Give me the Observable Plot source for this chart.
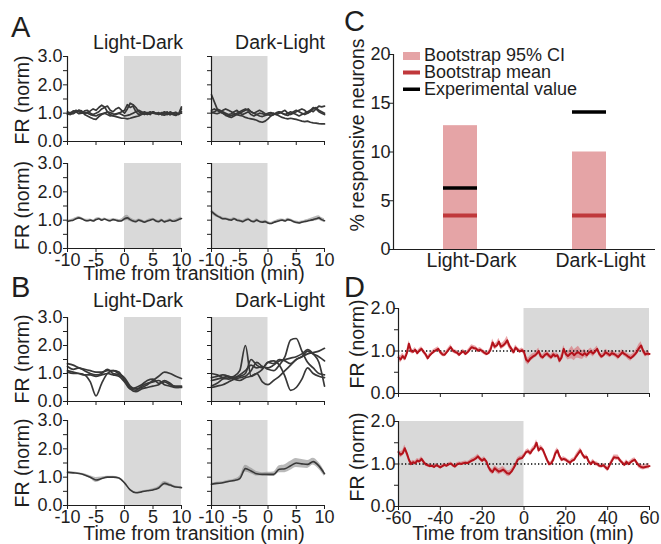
<!DOCTYPE html>
<html>
<head>
<meta charset="utf-8">
<script src="https://cdn.jsdelivr.net/npm/d3@7"></script>
<script src="https://cdn.jsdelivr.net/npm/@observablehq/plot@0.6"></script>
<style>
html,body{margin:0;padding:0;background:#fff;}
#fig{position:relative;width:661px;height:544px;overflow:hidden;background:#fff;}
#fig svg{position:absolute;left:0;top:0;}
</style>
</head>
<body>
<div id="fig"></div>
<script>
// ---------------- DATA ----------------
const stepA = 0.5, stepB = 1, stepD = 1;
const darkAB_LD = [0, 10];
const darkAB_DL = [-10, 0];
const darkD_LD = [0, 60];
const darkD_DL = [-60, 0];

// Panel A, individual neurons (Light-Dark)
const aLD1 = [0.95,1.00,1.05,1.10,1.05,1.00,1.08,1.10,1.00,0.95,1.00,1.05,1.15,1.20,1.25,1.10,1.05,1.15,1.20,1.10,1.00,1.15,1.35,1.30,1.20,1.05,1.00,0.95,1.00,1.05,1.00,0.98,1.02,0.95,1.00,1.05,0.95,0.98,1.02,0.95,1.15];
const aLD2 = [1.00,1.02,0.98,1.05,1.10,1.08,0.95,0.90,0.85,0.80,0.78,0.88,0.95,1.00,1.05,1.02,0.98,0.95,1.00,1.05,1.10,1.30,1.20,1.25,1.05,0.95,1.00,1.05,1.00,0.95,1.05,1.00,0.95,1.02,0.98,0.95,1.05,1.00,0.95,0.98,1.00];
const aLD3 = [1.05,1.00,1.08,1.05,1.10,1.05,1.00,1.02,1.08,1.15,1.10,1.20,1.28,1.22,1.05,0.95,0.90,0.88,0.85,0.82,0.82,0.80,0.82,0.85,0.88,0.90,0.95,1.00,1.02,0.98,1.05,1.00,0.97,1.00,1.05,0.98,0.95,1.00,1.03,0.97,1.05];
const aLD4 = [0.98,0.95,1.00,1.05,0.98,1.00,1.02,1.00,0.95,0.92,0.90,0.95,0.98,1.00,0.95,0.90,0.92,0.98,1.00,0.95,0.90,0.92,0.95,1.00,1.05,1.10,1.05,1.00,0.95,1.00,1.02,0.98,1.00,0.95,0.93,0.98,1.00,0.95,0.92,0.98,1.22];
// Panel A, individual neurons (Dark-Light)
const aDL1 = [1.65,1.40,1.15,1.10,1.05,1.00,0.95,0.98,1.05,1.10,1.00,0.95,1.00,1.05,0.95,0.90,0.95,1.00,0.98,0.95,1.00,1.02,0.98,0.95,1.00,1.05,1.10,1.00,0.95,1.00,1.05,1.10,1.15,1.10,1.00,1.05,1.15,1.20,1.10,1.05,1.00];
const aDL2 = [1.10,1.15,1.10,1.05,1.00,0.95,0.90,0.92,0.95,1.00,1.05,1.10,1.15,1.10,1.05,1.00,0.95,0.90,0.88,0.92,0.95,0.98,1.00,0.95,0.90,0.85,0.82,0.80,0.82,0.80,0.78,0.75,0.72,0.70,0.72,0.68,0.66,0.65,0.63,0.62,0.62];
const aDL3 = [1.05,1.00,0.98,1.02,1.10,1.15,1.10,1.05,1.00,0.95,0.92,0.90,0.85,0.82,0.80,0.78,0.75,0.70,0.68,0.72,0.80,0.90,0.95,1.00,1.05,1.00,0.95,1.00,1.05,1.00,0.95,0.90,0.95,1.00,1.05,1.10,1.05,1.15,1.25,1.22,1.25];
const aDL4 = [1.00,1.05,1.10,1.05,1.00,0.92,0.88,0.85,0.90,0.95,1.00,1.05,1.10,1.15,1.05,1.00,1.05,1.10,1.05,0.98,0.95,0.92,0.95,1.02,1.05,1.00,0.95,0.92,0.98,1.05,1.10,1.05,1.00,0.95,1.00,1.10,1.20,1.15,1.05,1.00,0.95];
// Panel A, population mean and SEM
const aLDmean = [0.95,0.98,1.00,1.05,1.08,1.05,1.00,0.98,1.00,0.97,1.02,1.05,1.00,1.04,1.00,0.98,1.02,1.00,0.97,0.98,1.05,1.08,1.02,0.97,0.95,1.00,0.97,0.93,0.97,1.00,1.03,0.97,0.95,1.00,0.94,0.97,1.00,0.96,0.98,1.02,1.06];
const aLDsem  = [0.04,0.04,0.05,0.04,0.05,0.04,0.04,0.05,0.04,0.04,0.05,0.04,0.05,0.04,0.04,0.05,0.04,0.04,0.05,0.06,0.08,0.09,0.07,0.06,0.05,0.04,0.05,0.04,0.04,0.05,0.04,0.05,0.04,0.04,0.05,0.04,0.05,0.04,0.05,0.05,0.05];
const aDLmean = [1.30,1.22,1.15,1.10,1.05,1.05,1.02,1.00,1.05,1.00,0.98,0.95,1.00,1.03,0.97,0.95,1.00,0.95,0.93,0.95,0.90,0.88,0.92,0.95,0.98,1.00,0.97,1.02,1.00,0.95,0.92,0.90,0.93,0.95,0.97,1.00,1.02,1.05,1.08,1.02,0.98];
const aDLsem  = [0.08,0.07,0.06,0.05,0.05,0.04,0.04,0.05,0.04,0.04,0.05,0.04,0.04,0.05,0.04,0.04,0.05,0.04,0.04,0.05,0.05,0.04,0.04,0.05,0.05,0.04,0.05,0.05,0.04,0.05,0.05,0.05,0.04,0.05,0.05,0.06,0.07,0.08,0.08,0.07,0.07];

// Panel B, individual neurons (1-min resolution)
const bLD1 = [1.35,1.30,1.20,1.15,1.10,1.05,1.05,1.10,1.10,1.00,0.85,0.55,0.45,0.50,0.60,0.75,0.90,1.05,1.00,0.90,0.82];
const bLD2 = [1.25,1.15,1.20,1.10,1.00,0.95,1.00,1.15,1.00,0.95,0.80,0.50,0.40,0.55,0.65,0.70,0.75,0.60,0.55,0.50,0.50];
const bLD3 = [1.10,1.05,1.00,0.95,0.95,0.90,0.95,1.00,0.95,0.90,0.70,0.45,0.50,0.60,0.75,0.80,0.65,0.70,0.60,0.55,0.55];
const bLD4 = [1.05,1.00,1.00,0.95,0.70,0.20,0.65,1.00,1.10,1.05,0.75,0.45,0.35,0.45,0.50,0.55,0.60,0.75,0.65,0.50,0.52];
const bDL1 = [0.55,0.65,0.80,0.85,0.90,1.10,2.00,0.90,1.00,1.15,1.40,1.35,1.50,1.45,1.35,1.50,1.60,1.80,1.70,1.60,1.45];
const bDL2 = [0.75,0.80,0.85,0.90,0.85,0.95,1.10,1.30,1.20,1.25,1.15,1.10,1.30,1.60,2.20,2.25,1.80,1.40,1.20,1.00,0.95];
const bDL3 = [1.00,0.95,0.85,0.80,0.85,0.90,1.00,1.50,1.30,1.20,1.40,1.45,1.30,0.90,0.40,0.50,0.80,1.20,1.00,0.90,0.85];
const bDL4 = [0.85,0.90,0.95,0.90,0.80,0.75,0.85,0.90,1.00,0.70,0.60,0.75,0.90,1.10,1.30,1.50,1.60,1.70,1.75,1.80,1.90];
const bDL5 = [0.50,0.55,0.60,0.70,0.80,0.85,0.90,1.10,1.40,1.25,1.20,1.30,1.45,1.50,1.55,1.60,1.70,1.85,1.70,1.40,0.55];
// Panel B, population mean and SEM
const bLDmean = [1.17,1.15,1.13,1.08,1.00,0.90,0.95,1.00,1.00,0.97,0.80,0.55,0.45,0.48,0.52,0.55,0.62,0.78,0.72,0.65,0.63];
const bLDsem  = [0.03,0.03,0.03,0.04,0.05,0.09,0.06,0.03,0.03,0.03,0.03,0.03,0.03,0.03,0.03,0.04,0.05,0.07,0.06,0.04,0.04];
const bDLmean = [0.75,0.78,0.80,0.85,0.88,0.95,1.30,1.22,1.12,1.10,1.10,1.10,1.28,1.30,1.40,1.50,1.47,1.45,1.55,1.40,1.12];
const bDLsem  = [0.04,0.04,0.04,0.04,0.05,0.08,0.12,0.10,0.08,0.06,0.07,0.08,0.12,0.14,0.16,0.16,0.15,0.14,0.12,0.12,0.10];

// Panel C
const cCategories = ["Light-Dark", "Dark-Light"];
const cCiLow  = [0, 0];
const cCiHigh = [12.7, 10.0];
const cBootMean = [3.5, 3.5];
const cExperimental = [6.3, 14.1];
const cLegend = ["Bootstrap 95% CI", "Bootstrap mean", "Experimental value"];

// Panel D (1-min resolution, -60..60)
const dLD = [0.85,0.80,0.88,0.82,0.95,1.17,1.00,0.98,1.03,0.95,
             1.01,1.05,0.98,0.92,0.83,0.90,0.95,0.99,1.02,1.05,
             0.97,0.92,0.91,0.97,1.03,1.09,1.01,0.98,0.96,0.91,
             0.96,0.99,0.93,0.97,1.03,1.09,1.07,1.06,1.01,1.03,
             1.00,0.96,0.93,0.95,1.03,1.20,1.10,1.13,1.22,1.10,
             1.13,1.18,1.25,1.12,1.05,0.97,1.08,1.03,0.99,1.02,
             0.98,0.80,0.75,0.82,0.86,0.89,0.93,1.00,0.88,0.85,
             0.91,0.94,0.89,0.85,0.92,0.88,0.90,0.77,0.85,1.05,
             0.93,0.88,0.93,0.96,0.90,0.95,0.97,0.93,0.90,0.95,
             0.90,0.96,0.99,0.94,0.99,1.05,0.93,0.87,0.90,0.97,
             0.94,0.90,0.95,0.93,0.90,0.86,0.91,0.97,0.93,0.90,
             0.86,0.83,0.87,0.92,0.98,1.07,1.13,1.00,0.92,0.94,
             0.93];
const dLDsem = [0.07,0.08,0.07,0.06,0.06,0.07,0.06,0.05,0.05,0.05,
                0.05,0.05,0.05,0.06,0.06,0.05,0.05,0.05,0.05,0.05,
                0.05,0.05,0.05,0.05,0.05,0.06,0.05,0.05,0.05,0.05,
                0.05,0.05,0.05,0.05,0.05,0.06,0.06,0.05,0.05,0.05,
                0.05,0.05,0.05,0.05,0.06,0.08,0.07,0.07,0.08,0.07,
                0.07,0.08,0.10,0.08,0.07,0.06,0.06,0.05,0.05,0.05,
                0.06,0.08,0.08,0.07,0.07,0.06,0.07,0.07,0.06,0.06,
                0.06,0.07,0.06,0.06,0.07,0.06,0.06,0.07,0.08,0.08,
                0.07,0.09,0.12,0.15,0.13,0.12,0.14,0.12,0.10,0.09,
                0.08,0.07,0.08,0.08,0.07,0.07,0.06,0.06,0.06,0.07,
                0.07,0.06,0.07,0.06,0.06,0.07,0.07,0.06,0.06,0.06,
                0.07,0.07,0.06,0.07,0.08,0.09,0.09,0.07,0.06,0.06,
                0.06];
const dDL = [1.28,1.22,1.25,1.37,1.25,1.10,1.00,1.04,1.02,1.08,
             1.06,1.12,1.05,0.99,0.97,0.95,0.96,0.93,0.97,0.95,
             0.92,0.95,0.98,0.96,0.99,1.01,0.97,0.94,0.99,1.01,
             1.00,1.02,1.03,1.02,1.05,1.08,1.10,1.13,1.18,1.12,
             1.08,1.12,1.06,0.93,0.85,0.81,0.90,0.86,0.82,0.84,
             0.87,0.83,0.78,0.77,0.82,0.90,0.99,1.10,1.13,1.14,
             1.20,1.28,1.30,1.25,1.33,1.38,1.50,1.32,1.38,1.34,
             1.22,1.10,1.00,1.01,1.10,1.25,1.32,1.18,1.10,1.12,
             1.10,1.06,1.03,1.08,1.10,1.18,1.25,1.32,1.22,1.15,
             1.17,1.05,1.00,1.06,1.01,1.00,0.96,0.95,0.97,0.92,
             0.88,0.98,1.07,1.16,1.15,1.15,1.08,1.03,0.98,1.05,
             1.00,1.04,1.08,1.10,1.02,0.96,0.93,0.92,0.93,0.94,
             0.95];
const dDLsem = [0.07,0.07,0.07,0.08,0.07,0.06,0.05,0.05,0.05,0.05,
                0.05,0.05,0.05,0.04,0.04,0.04,0.04,0.04,0.04,0.04,
                0.04,0.04,0.04,0.04,0.04,0.04,0.04,0.04,0.04,0.04,
                0.04,0.04,0.04,0.04,0.04,0.05,0.05,0.05,0.05,0.05,
                0.05,0.05,0.05,0.06,0.06,0.06,0.06,0.07,0.07,0.07,
                0.07,0.07,0.07,0.07,0.06,0.06,0.05,0.05,0.05,0.05,
                0.05,0.05,0.06,0.06,0.06,0.06,0.07,0.06,0.06,0.06,
                0.06,0.05,0.05,0.05,0.05,0.06,0.06,0.05,0.05,0.05,
                0.05,0.05,0.05,0.05,0.05,0.06,0.06,0.06,0.05,0.05,
                0.05,0.05,0.05,0.05,0.05,0.05,0.05,0.05,0.05,0.05,
                0.06,0.05,0.05,0.05,0.06,0.06,0.05,0.05,0.05,0.05,
                0.05,0.05,0.05,0.05,0.05,0.06,0.06,0.06,0.06,0.06,
                0.06];

// Axis ticks
const xDomAB = [-10, 10], yDomAB = [0, 3];
const xTicksAB = [-10, -5, 0, 5, 10];
const yTicksAB = [0, 1, 2, 3], yMinorAB = [0.5, 1.5, 2.5];
const xDomD = [-60, 60], yDomD = [0, 2];
const xTicksD = [-60, -40, -20, 0, 20, 40, 60];
const yTicksD = [0, 1, 2], yMinorD = [0.5, 1.5];
const yDomC = [0, 20], yTicksC = [0, 5, 10, 15, 20];

// ---------------- STYLE ----------------
const W = 661, H = 544;
const FONT = "'Liberation Sans', Arial, Helvetica, sans-serif";
const AX = "#1e1e1e";
const GRAY_BG = "#d9d9d9";
const TRACE = "#383838";
const BAND_GRAY = "#8a8a8a";
const CI_PINK = "#e5a4a6", MEAN_RED = "#c0383b", EXP_BLACK = "#000000";
const D_RED = "#b3121b", D_BAND = "#d9545c";

const fig = document.getElementById("fig");

function series(t, vals, sem, key) {
  return vals.map((v, i) => ({t: t[i], v, lo: sem ? v - sem[i] : null, hi: sem ? v + sem[i] : null, k: key}));
}
function grid(n, start, step) { return Array.from({length: n}, (_, i) => start + i * step); }

function place(frame, xOpt, yOpt, marks) {
  const [x0, x1, y0, y1] = frame;
  const svg = Plot.plot({
    width: W, height: H,
    marginLeft: x0, marginRight: W - x1, marginTop: y0, marginBottom: H - y1,
    x: xOpt, y: yOpt,
    style: `background:transparent;overflow:visible;font-family:${FONT};font-size:18px;color:${AX};position:absolute;left:0;top:0;max-width:none;`,
    marks
  });
  fig.appendChild(svg);
}

function abAxes(showY, showX) {
  return [
    Plot.ruleX([xDomAB[0]], {y1: yDomAB[0], y2: yDomAB[1], stroke: AX, strokeWidth: 1.2}),
    Plot.ruleY([yDomAB[0]], {x1: xDomAB[0], x2: xDomAB[1], stroke: AX, strokeWidth: 1.2}),
    Plot.axisY({ticks: yTicksAB, tickSize: 4, tickPadding: 1, tickFormat: showY ? d => d.toFixed(1) : () => "", label: null, stroke: AX}),
    Plot.axisY({ticks: yMinorAB, tickSize: 4, tickFormat: () => "", label: null, stroke: AX}),
    Plot.axisX({ticks: xTicksAB, tickSize: 4, tickPadding: 0.5, tickFormat: showX ? d => `${d}` : () => "", label: null, stroke: AX})
  ];
}
function darkRect(period, yd) {
  return Plot.rect([period], {x1: d => d[0], x2: d => d[1], y1: yd[0], y2: yd[1], fill: GRAY_BG});
}
function tracesPanel(frame, period, traces, t, showY, curve) {
  const data = traces.flatMap((vals, k) => series(t, vals, null, k));
  place(frame, {domain: xDomAB}, {domain: yDomAB}, [
    darkRect(period, yDomAB),
    Plot.line(data, {x: "t", y: "v", z: "k", stroke: TRACE, strokeWidth: 1.7, curve}),
    ...abAxes(showY, false)
  ]);
}
function meanPanel(frame, period, mean, sem, t, showY) {
  const data = series(t, mean, sem, 0);
  place(frame, {domain: xDomAB}, {domain: yDomAB}, [
    darkRect(period, yDomAB),
    Plot.areaY(data, {x: "t", y1: "lo", y2: "hi", fill: BAND_GRAY, fillOpacity: 0.6, curve: "monotone-x"}),
    Plot.line(data, {x: "t", y: "v", stroke: TRACE, strokeWidth: 1.6, curve: "monotone-x"}),
    ...abAxes(showY, true)
  ]);
}

const tA = grid(aLDmean.length, xDomAB[0], stepA);
const tB = grid(bLDmean.length, xDomAB[0], stepB);
const tD = grid(dLD.length, xDomD[0], stepD);

// Panel A
tracesPanel([67, 181, 56, 141], darkAB_LD, [aLD1, aLD2, aLD3, aLD4], tA, true, "linear");
tracesPanel([211, 324, 56, 141], darkAB_DL, [aDL1, aDL2, aDL3, aDL4], tA, false, "linear");
meanPanel([67, 181, 163, 248], darkAB_LD, aLDmean, aLDsem, tA, true);
meanPanel([211, 324, 163, 248], darkAB_DL, aDLmean, aDLsem, tA, false);
// Panel B
tracesPanel([67, 181, 317, 401], darkAB_LD, [bLD1, bLD2, bLD3, bLD4], tB, true, "monotone-x");
tracesPanel([211, 324, 317, 401], darkAB_DL, [bDL1, bDL2, bDL3, bDL4, bDL5], tB, false, "monotone-x");
meanPanel([67, 181, 420, 505], darkAB_LD, bLDmean, bLDsem, tB, true);
meanPanel([211, 324, 420, 505], darkAB_DL, bDLmean, bDLsem, tB, false);

// Panel C
const cFrame = [393, 655, 54, 249];
const cData = cCategories.map((c, i) => ({cat: c, lo: cCiLow[i], hi: cCiHigh[i], mean: cBootMean[i], exp: cExperimental[i]}));
place(cFrame,
  {type: "band", domain: cCategories, paddingInner: 0.74, paddingOuter: 0.383},
  {domain: yDomC},
  [
    Plot.barY(cData, {x: "cat", y1: "lo", y2: "hi", fill: CI_PINK}),
    Plot.tickY(cData, {x: "cat", y: "mean", stroke: MEAN_RED, strokeWidth: 4}),
    Plot.tickY(cData, {x: "cat", y: "exp", stroke: EXP_BLACK, strokeWidth: 3.5}),
    Plot.ruleY([yDomC[0]], {stroke: AX, strokeWidth: 1.2}),
    Plot.axisY({ticks: yTicksC, tickSize: 4, tickPadding: -1, label: null, stroke: AX}),
    Plot.axisX({tickSize: 0, tickPadding: 4, label: null, fontSize: 19.5, dx: 11})
  ]);
// Panel C value-axis line (left edge of the frame), no axes of its own
place(cFrame, {domain: [0, 1], axis: null}, {domain: yDomC, axis: null}, [
  Plot.ruleX([0], {y1: yDomC[0], y2: yDomC[1], stroke: AX, strokeWidth: 1.2})
]);

// Panel D
function dPanel(frame, period, vals, sem, showX) {
  const data = series(tD, vals, sem, 0);
  place(frame, {domain: xDomD}, {domain: yDomD}, [
    darkRect(period, yDomD),
    Plot.areaY(data, {x: "t", y1: "lo", y2: "hi", fill: D_BAND, fillOpacity: 0.5}),
    Plot.ruleY([1], {stroke: "#000", strokeWidth: 1.3, strokeDasharray: "1.3,2.2"}),
    Plot.line(data, {x: "t", y: "v", stroke: D_RED, strokeWidth: 2}),
    Plot.ruleX([xDomD[0]], {y1: yDomD[0], y2: yDomD[1], stroke: AX, strokeWidth: 1.2}),
    Plot.ruleY([yDomD[0]], {x1: xDomD[0], x2: xDomD[1], stroke: AX, strokeWidth: 1.2}),
    Plot.axisY({ticks: yTicksD, tickSize: 4, tickPadding: -1, tickFormat: d => d.toFixed(1), label: null, stroke: AX}),
    Plot.axisY({ticks: yMinorD, tickSize: 4, tickFormat: () => "", label: null, stroke: AX}),
    Plot.axisX({ticks: xTicksD, tickSize: 4, tickPadding: 0.5, tickFormat: showX ? d => `${d}` : () => "", label: null, stroke: AX})
  ]);
}
dPanel([398, 649, 308, 393], darkD_LD, dLD, dLDsem, false);
dPanel([398, 649, 421, 506], darkD_DL, dDL, dDLsem, true);

// ---------------- TEXT OVERLAY ----------------
const ov = d3.select(fig).append("svg")
  .attr("width", W).attr("height", H)
  .style("position", "absolute").style("left", 0).style("top", 0)
  .style("overflow", "visible")
  .attr("font-family", FONT).attr("fill", AX);
function txt(s, x, y, size, anchor = "start", rot = 0) {
  ov.append("text").attr("transform", `translate(${x},${y}) rotate(${rot})`)
    .attr("text-anchor", anchor).attr("font-size", size).text(s);
}
// panel letters
txt("A", 11, 37, 29); txt("B", 11, 297, 29); txt("C", 344, 31, 29); txt("D", 344, 297, 29);
// column titles
[49, 307].forEach(b => {
  txt("Light-Dark", 183, b, 19.5, "end");
  txt("Dark-Light", 325, b, 19.5, "end");
});
// x titles
txt("Time from transition (min)", 194, 280, 19.5, "middle");
txt("Time from transition (min)", 194, 540, 19.5, "middle");
txt("Time from transition (min)", 523, 540, 19.5, "middle");
// y titles
[100, 205.5, 359, 463].forEach(c => txt("FR (norm)", 28.5, c, 19.5, "middle", -90));
txt("FR (norm)", 364, 344, 19.5, "middle", -90);
txt("FR (norm)", 364, 457, 19.5, "middle", -90);
txt("% responsive neurons", 364, 135, 19.5, "middle", -90);
// legend C
const legendSw = [
  {y: 52, h: 8, fill: CI_PINK},
  {y: 70.5, h: 4, fill: MEAN_RED},
  {y: 87.5, h: 3.5, fill: EXP_BLACK}
];
const legendBase = [60.5, 77.5, 94.5];
cLegend.forEach((s, i) => {
  ov.append("rect").attr("x", 403).attr("y", legendSw[i].y).attr("width", 17).attr("height", legendSw[i].h).attr("fill", legendSw[i].fill);
  txt(s, 424, legendBase[i], 18);
});
</script>
</body>
</html>
